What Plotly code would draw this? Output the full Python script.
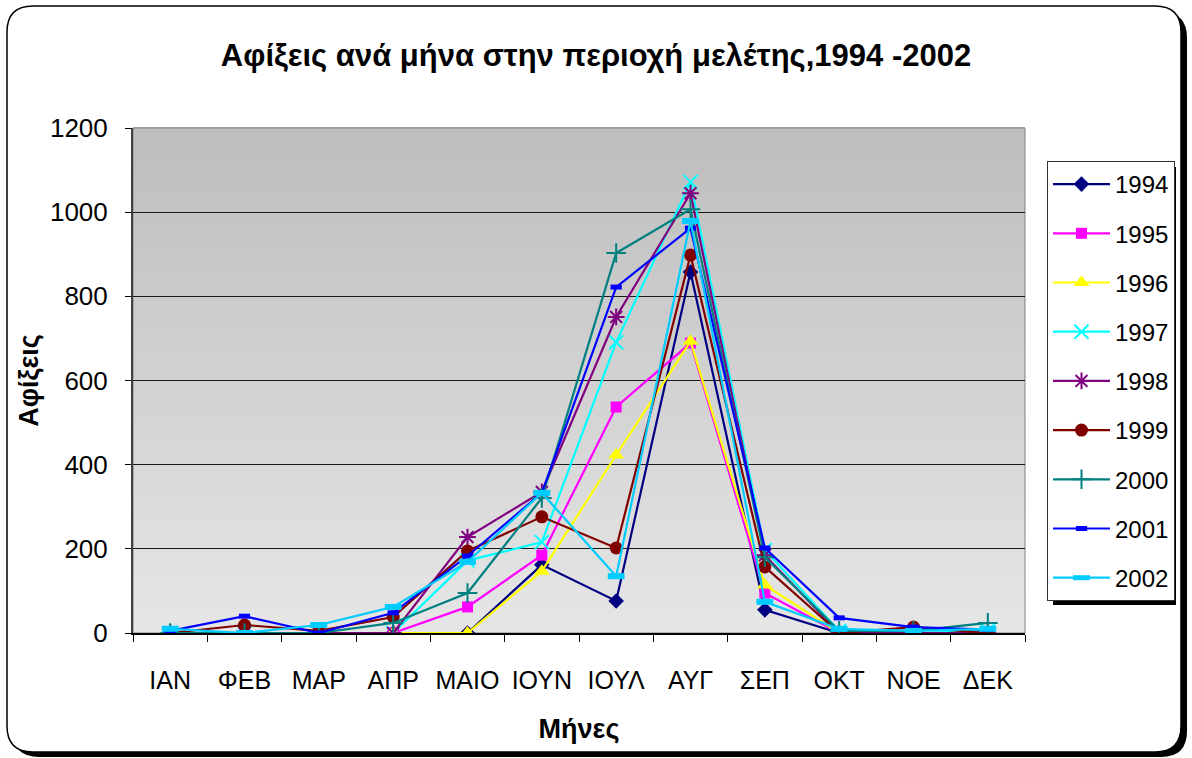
import plotly.graph_objects as go

months = ["ΙΑΝ", "ΦΕΒ", "ΜΑΡ", "ΑΠΡ", "ΜΑΙΟ", "ΙΟΥΝ", "ΙΟΥΛ", "ΑΥΓ", "ΣΕΠ", "ΟΚΤ", "ΝΟΕ", "ΔΕΚ"]

y1994 = [0, 0, 0, 0, 0, 162, 76, 858, 55, 0, 0, 0]
y1995 = [0, 0, 0, 0, 62, 185, 537, 689, 95, 0, 0, 0]
y1996 = [0, 0, 0, 0, 0, 147, 423, 693, 114, 0, 0, 0]
y1997 = [0, 0, 0, 0, 172, 216, 691, 1072, 197, 5, 0, 5]
y1998 = [0, 0, 0, 0, 228, 335, 751, 1045, 185, 0, 0, 0]
y1999 = [0, 19, 5, 38, 195, 276, 202, 898, 157, 0, 14, 0]
y2000 = [0, 0, 0, 24, 95, 321, 903, 1007, 180, 5, 5, 24]
y2001 = [5, 40, 0, 48, 183, 333, 822, 962, 202, 36, 14, 8]
y2002 = [10, 0, 19, 62, 169, 333, 135, 979, 74, 10, 5, 10]

series_names = ["1994", "1995", "1996", "1997", "1998", "1999", "2000", "2001", "2002"]
series_values = [y1994, y1995, y1996, y1997, y1998, y1999, y2000, y2001, y2002]

colors = ["#000080", "#FF00FF", "#FFFF00", "#00FFFF", "#800080", "#800000", "#008080", "#0000FF", "#00CCFF"]
symbols = ["diamond", "square", "triangle-up", "x-thin-open", "asterisk-open", "circle",
           "cross-thin-open", "line-ew-open", "line-ew-open"]
msizes = [12, 11, 14, 14, 14, 13, 14, 8, 12]
mlw = [0, 0, 0, 2, 2, 0, 2, 5, 6]

W, H = 1192, 758
L, R, T, B = 133, 1025, 128, 633


def px(x):
    return (x - L) / (R - L)


def py(y):
    return (B - y) / (B - T)


fig = go.Figure()
for i, (name, vals) in enumerate(zip(series_names, series_values)):
    fig.add_trace(go.Scatter(
        x=months, y=vals, name=name, mode="lines+markers",
        legendgroup=name,
        line=dict(color=colors[i], width=2.2),
        marker=dict(symbol=symbols[i], size=msizes[i], color=colors[i],
                    line=dict(color=colors[i], width=mlw[i])),
    ))


def rounded_rect(x0, y0, x1, y1, r):
    pts = [
        f"M{px(x0 + r)},{py(y0)}",
        f"L{px(x1 - r)},{py(y0)}",
        f"Q{px(x1)},{py(y0)} {px(x1)},{py(y0 + r)}",
        f"L{px(x1)},{py(y1 - r)}",
        f"Q{px(x1)},{py(y1)} {px(x1 - r)},{py(y1)}",
        f"L{px(x0 + r)},{py(y1)}",
        f"Q{px(x0)},{py(y1)} {px(x0)},{py(y1 - r)}",
        f"L{px(x0)},{py(y0 + r)}",
        f"Q{px(x0)},{py(y0)} {px(x0 + r)},{py(y0)}",
        "Z",
    ]
    return " ".join(pts)


shapes = []
shapes.append(dict(type="path", xref="paper", yref="paper", layer="below",
                   path=rounded_rect(13, 12, 1187, 757, 26), fillcolor="black", line=dict(width=0)))
shapes.append(dict(type="path", xref="paper", yref="paper", layer="below",
                   path=rounded_rect(7, 6, 1181, 752, 26), fillcolor="white",
                   line=dict(color="black", width=1.5)))
nb = 80
c0 = (0xBD, 0xBD, 0xBD)
c1 = (0xE6, 0xE6, 0xE6)
for k in range(nb):
    t = (k + 0.5) / nb
    c = tuple(int(round(c0[j] + (c1[j] - c0[j]) * t)) for j in range(3))
    shapes.append(dict(type="rect", xref="paper", yref="paper", layer="below",
                       x0=0, x1=1, y0=1 - (k + 1) / nb, y1=1 - k / nb + 0.002,
                       fillcolor="rgb(%d,%d,%d)" % c, line=dict(width=0)))
shapes.append(dict(type="rect", xref="paper", yref="paper", layer="below",
                   x0=0, x1=1, y0=0, y1=1, line=dict(color="#808080", width=1)))
shapes.append(dict(type="rect", xref="paper", yref="paper", layer="below",
                   x0=px(1053), x1=px(1176), y0=py(605), y1=py(167),
                   fillcolor="black", line=dict(width=0)))

font_main = "Liberation Sans, Arial, sans-serif"

fig.update_layout(
    width=W, height=H,
    margin=dict(l=L, r=W - R, t=T, b=H - B, pad=0, autoexpand=False),
    paper_bgcolor="white",
    plot_bgcolor="rgba(0,0,0,0)",
    shapes=shapes,
    title=dict(text="<b>Αφίξεις ανά μήνα στην περιοχή μελέτης,1994 -2002</b>",
               x=0.5, xref="container", xanchor="center",
               y=1 - 55 / H, yref="container", yanchor="middle",
               font=dict(family=font_main, size=31, color="black")),
    font=dict(family=font_main, color="black"),
    showlegend=True,
    legend=dict(x=px(1047), xanchor="left", y=py(161), yanchor="top",
                bgcolor="white", bordercolor="#333333", borderwidth=1,
                font=dict(family=font_main, size=24, color="black"),
                traceorder="grouped", tracegroupgap=15, itemwidth=57),
    xaxis=dict(
        type="category", categoryorder="array", categoryarray=months,
        tickmode="array", tickvals=months, ticktext=months,
        tickson="boundaries", ticks="outside", ticklen=7, tickcolor="black",
        tickangle=0, automargin=False,
        showline=True, linecolor="black", linewidth=2,
        showgrid=False, zeroline=False,
        ticklabelstandoff=24,
        tickfont=dict(family=font_main, size=25, color="black"),
        title=dict(text="<b>Μήνες</b>", standoff=26,
                   font=dict(family=font_main, size=27, color="black")),
        range=[-0.5, 11.5],
    ),
    yaxis=dict(
        range=[0, 1200], tickmode="array", tickvals=[0, 200, 400, 600, 800, 1000, 1200],
        ticks="outside", ticklen=6, tickcolor="black", automargin=False,
        showline=True, linecolor="#404040", linewidth=2,
        showgrid=True, gridcolor="#1a1a1a", gridwidth=1,
        zeroline=False,
        ticklabelstandoff=12,
        tickfont=dict(family=font_main, size=26, color="black"),
        title=dict(text="<b>Αφίξεις</b>", standoff=4,
                   font=dict(family=font_main, size=27, color="black")),
    ),
)

fig.write_html("out.html", config={"displayModeBar": False},
               post_script="document.body.style.margin='0px';")
